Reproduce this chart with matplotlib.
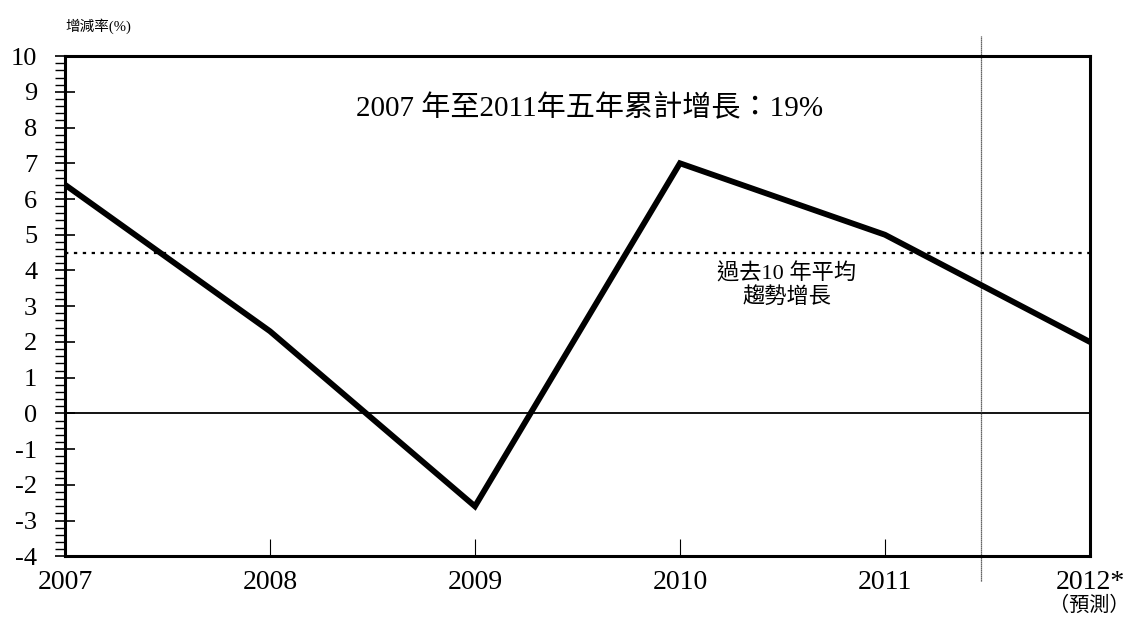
import matplotlib.pyplot as plt
from matplotlib.ticker import MultipleLocator
from matplotlib.lines import Line2D

plt.rcParams['font.family'] = ['Liberation Serif', 'Noto Sans CJK TC', 'DejaVu Sans']
plt.rcParams['axes.unicode_minus'] = False

years = [2007, 2008, 2009, 2010, 2011, 2012]
growth = [6.4, 2.3, -2.6, 7.0, 5.0, 2.0]
year_labels = ['2007', '2008', '2009', '2010', '2011', '2012*']
trend_avg = 4.5
forecast_split = 2011.47

fig = plt.figure(figsize=(11.3, 6.23), dpi=100)
ax = fig.add_axes([0.0575, 0.107, 0.907, 0.803])

ax.plot(years, growth, color='black', lw=4.2, solid_joinstyle='miter', zorder=3)
ax.axhline(0, color='black', lw=1.3, zorder=2)
ax.axhline(trend_avg, color='black', lw=1.6, ls=(0, (1.5, 2.5)), zorder=2)

# forecast divider runs past the frame
ax.add_line(Line2D([forecast_split, forecast_split], [-0.05, 1.04],
                   transform=ax.get_xaxis_transform(), color='#333333',
                   lw=0.9, ls=(0, (1, 0.6)), clip_on=False, zorder=2))

ax.set_xlim(2007, 2012)
ax.set_ylim(-4, 10)
ax.yaxis.set_major_locator(MultipleLocator(1))
ax.yaxis.set_minor_locator(MultipleLocator(0.2))
ax.set_xticks(years)
ax.set_xticklabels(year_labels)

ax.tick_params(axis='y', which='major', direction='inout', length=14, width=1.2,
               labelsize=19, pad=13)
ax.tick_params(axis='y', which='minor', direction='out', length=7, width=1.0)
ax.tick_params(axis='x', which='major', direction='in', length=12, width=0.8,
               labelsize=20, pad=10)

for s in ax.spines.values():
    s.set_linewidth(2.2)

ax.text(0.512, 0.895, '2007 年至2011年五年累計增長：19%', transform=ax.transAxes,
        ha='center', va='center', fontsize=21)
ax.text(2010.52, 3.58, '過去10 年平均\n趨勢增長', ha='center', va='center',
        fontsize=16, linespacing=1.15)
fig.text(0.058, 0.958, '增減率(%)', ha='left', va='center', fontsize=10.5)
fig.text(0.964, 0.027, '（預測）', ha='center', va='center', fontsize=14.5)

fig.savefig('out.png', dpi=100)
